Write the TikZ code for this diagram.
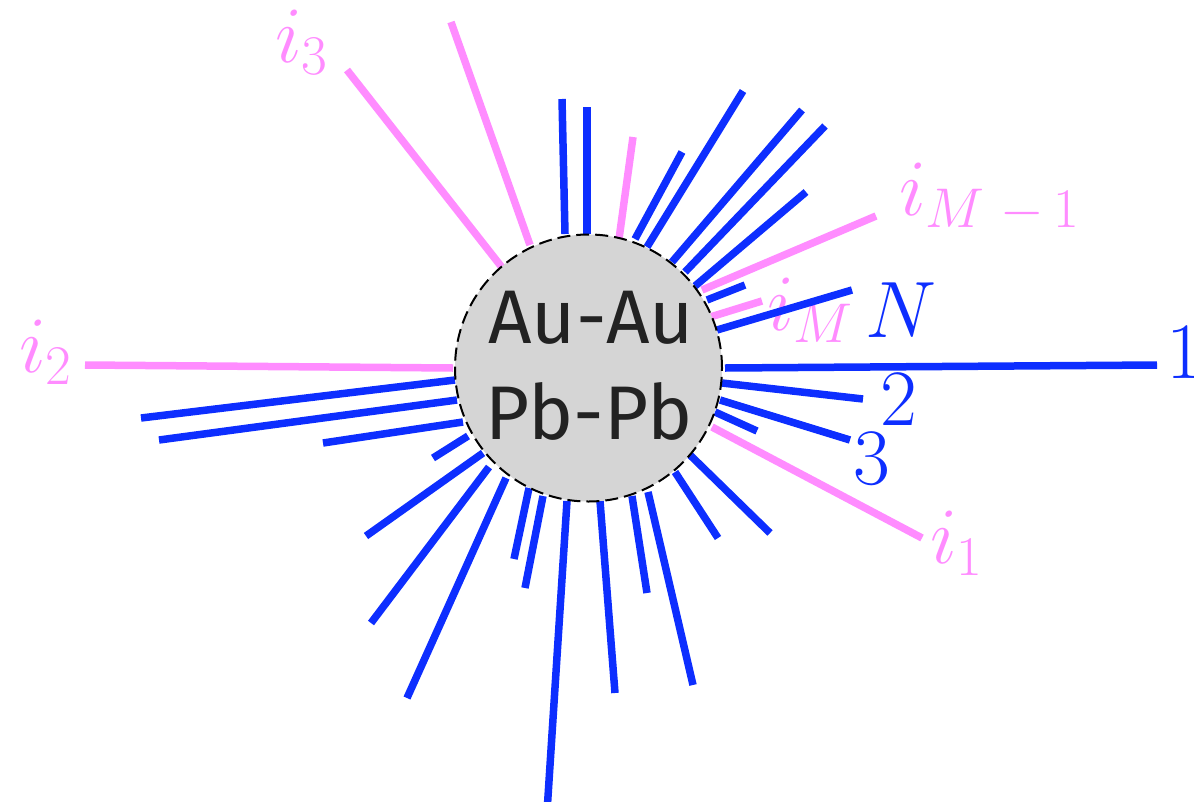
\RequirePackage{fix-cm}
\documentclass[tikz,border=0pt]{standalone}
\usepackage{fontspec}
\newfontfamily\labelfont{Fira Sans}
\definecolor{rayblue}{HTML}{0D2EFF}
\definecolor{raypink}{HTML}{FF8CFF}
\definecolor{discgray}{HTML}{D5D5D5}
\definecolor{inktext}{HTML}{222222}
\tikzset{
  bray/.style={draw=rayblue, line width=7.5pt},
  pray/.style={draw=raypink, line width=7.5pt},
  blab/.style={text=rayblue, anchor=base west, inner sep=0pt, font=\fontsize{80}{96}\selectfont},
  plab/.style={text=raypink, anchor=base west, inner sep=0pt, font=\fontsize{80}{96}\selectfont},
  disc/.style={circle, fill=discgray, draw=black, line width=2pt, dash pattern=on 13pt off 6pt, minimum size=267pt, inner sep=0pt},
  disctext/.style={text=inktext, inner sep=0pt, font=\labelfont\fontsize{76}{88}\selectfont}
}
\begin{document}
\begin{tikzpicture}[x=1pt,y=-1pt]
\useasboundingbox (0,0) rectangle (1194,801);
% labels
\node[plab] (li3) at (275,62) {$i_3$};
\node[plab] (li2) at (19,372) {$i_2$};
\node[plab] (liM1) at (899,215) {$i_{M\mskip5mu{-}\mskip3mu1}$};
\node[plab] (liM) at (767,330) {$i_M$};
\node[blab] (lN) at (865,337) {$N$};
\node[blab] (l1) at (1166,378) {$1$};
\node[blab] (l2) at (880,425) {$2$};
\node[blab] (l3) at (853,484) {$3$};
\node[plab] (li1) at (930,563) {$i_1$};
% pink rays
\foreach \ax/\ay/\bx/\by in {451/22/530/245, 347/70/504/270, 633/137/619/239, 876/216/702/290, 762/301/707/318, 922/538/712/427, 85/365/453/368}
  \draw[pray] (\ax,\ay) -- (\bx,\by);
% blue rays
\foreach \ax/\ay/\bx/\by in {562/99/565/234, 587/107/587/234, 682/152/635/239, 743/91/647/247, 802/110/672/262, 825/126/685/272, 806/192/695/286, 745/285/707/300, 852/290/717/330, 1157/365/725/368, 863/399/722/383, 850/440/720/400, 757/431/715/412, 770/533/690/455, 718/538/675/472, 693/685/648/492, 647/593/632/496, 615/693/600/501, 547/812/567/501, 525/588/543/496, 514/559/529/488, 407/698/506/478, 371/623/489/467, 366/536/483/453, 433/458/468/436, 323/443/463/422, 159/440/457/400, 141/418/455/380}
  \draw[bray] (\ax,\ay) -- (\bx,\by);
% disc
\node[disc] (c) at (588.5,368) {};
\node[disctext] (t1) at (591,318) {Au-Au};
\node[disctext] (t2) at (589,411) {Pb-Pb};
\end{tikzpicture}
\end{document}
